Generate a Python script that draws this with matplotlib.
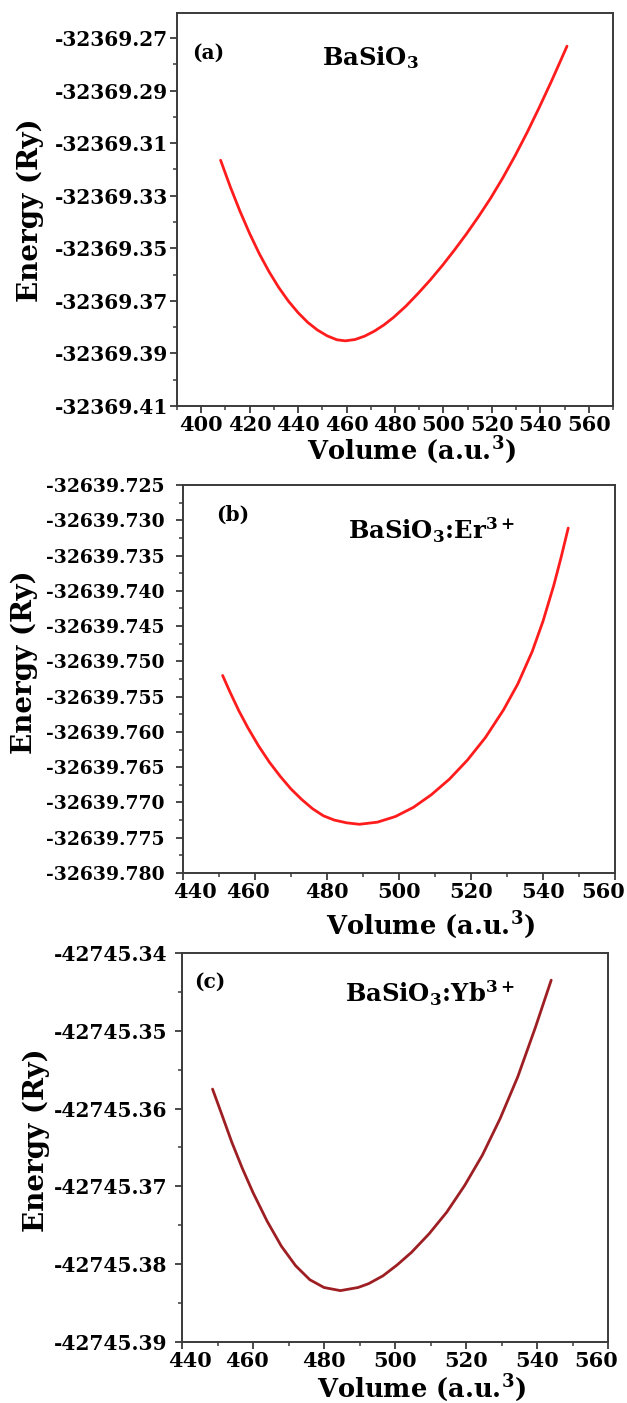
import matplotlib
matplotlib.use("Agg")
import matplotlib.pyplot as plt
import matplotlib.transforms as mtransforms
from matplotlib.ticker import FixedLocator, FormatStrFormatter

plt.rcParams['font.family'] = ['DejaVu Serif']
plt.rcParams['font.weight'] = 'bold'
plt.rcParams['mathtext.fontset'] = 'dejavuserif'

# --- (a) BaSiO3 ---
vol_a = [408, 412, 416, 420, 424, 428, 432, 436, 440, 444, 448, 452, 456, 459.5,
         463.5, 467.5, 471.5, 475.5, 479.5, 484.5, 489.5, 494.5, 499.5, 504.5,
         509.5, 514.5, 519.5, 524.5, 529.5, 534.5, 539.5, 544.5, 547.5, 551]
e_a = [-32369.3165, -32369.3266, -32369.3359, -32369.3444, -32369.3521, -32369.3589,
       -32369.3649, -32369.3701, -32369.3745, -32369.3782, -32369.3811, -32369.3833,
       -32369.3848, -32369.3852, -32369.3847, -32369.3834, -32369.3815, -32369.3791,
       -32369.3762, -32369.3720, -32369.3672, -32369.3621, -32369.3566, -32369.3507,
       -32369.3445, -32369.3379, -32369.3309, -32369.3232, -32369.3149, -32369.3060,
       -32369.2965, -32369.2866, -32369.2804, -32369.2731]
yticks_a = [-32369.41, -32369.39, -32369.37, -32369.35, -32369.33, -32369.31, -32369.29, -32369.27]
xticks_a = [400, 420, 440, 460, 480, 500, 520, 540, 560]

# --- (b) BaSiO3:Er3+ ---
vol_b = [451, 453, 455.5, 458, 461, 464, 467, 470, 473, 476, 479, 482, 485.5, 489,
         494, 499, 504, 509, 514, 519, 524, 529, 533, 537, 540, 543, 545, 547]
e_b = [-32639.7520, -32639.7543, -32639.7570, -32639.7594, -32639.7620, -32639.7643,
       -32639.7663, -32639.7681, -32639.7696, -32639.7709, -32639.7719, -32639.7725,
       -32639.7729, -32639.7731, -32639.7728, -32639.7720, -32639.7707, -32639.7689,
       -32639.7667, -32639.7640, -32639.7608, -32639.7569, -32639.7532, -32639.7486,
       -32639.7443, -32639.7392, -32639.7353, -32639.7311]
yticks_b = [-32639.780, -32639.775, -32639.770, -32639.765, -32639.760, -32639.755,
            -32639.750, -32639.745, -32639.740, -32639.735, -32639.730, -32639.725]
xticks_b = [440, 460, 480, 500, 520, 540, 560]

# --- (c) BaSiO3:Yb3+ ---
vol_c = [448.6, 451, 454, 457, 460, 464, 468, 472, 476, 480, 484.6, 489.6, 492.6,
         496.6, 500.6, 504.6, 509.6, 514.6, 519.6, 524.6, 529.6, 534.6, 539.6, 544]
e_c = [-42745.3575, -42745.3605, -42745.3643, -42745.3677, -42745.3708, -42745.3745,
       -42745.3777, -42745.3802, -42745.3820, -42745.3830, -42745.3834, -42745.3830,
       -42745.3825, -42745.3815, -42745.3801, -42745.3785, -42745.3761, -42745.3733,
       -42745.3699, -42745.3660, -42745.3613, -42745.3559, -42745.3495, -42745.3435]
yticks_c = [-42745.39, -42745.38, -42745.37, -42745.36, -42745.35, -42745.34]
xticks_c = [440, 460, 480, 500, 520, 540, 560]

panels = [
    dict(vol=vol_a, e=e_a, yt=yticks_a, xt=xticks_a, fmt='%.2f',
         rect=[0.2823, 0.7106, 0.6954, 0.2801], xlim=(390, 570),
         ylim=(-32369.41, -32369.2605), color='#ff1c1c', ysize=14.5, ypad=1.5,
         tag='(a)', tagpos=(0.071, 0.90),
         name='BaSiO$_\\mathbf{3}$', namepos=(0.443, 0.886),
         ylab=(-0.305, 0.499), xlab=(0.539, -0.071), shift=None),
    dict(vol=vol_b, e=e_b, yt=yticks_b, xt=xticks_b, fmt='%.3f',
         rect=[0.2919, 0.3778, 0.6890, 0.2765], xlim=(440, 560),
         ylim=(-32639.780, -32639.725), color='#ff1c1c', ysize=13.5, ypad=8,
         tag='(b)', tagpos=(0.116, 0.923),
         name='BaSiO$_\\mathbf{3}$:Er$^\\mathbf{3+}$', namepos=(0.576, 0.884),
         ylab=(-0.336, 0.544), xlab=(0.572, -0.093), shift=[12, -7, -12]),
    dict(vol=vol_c, e=e_c, yt=yticks_c, xt=xticks_c, fmt='%.2f',
         rect=[0.2903, 0.0435, 0.6794, 0.2773], xlim=(440, 560),
         ylim=(-42745.39, -42745.34), color='#9e1f23', ysize=14.5, ypad=5.5,
         tag='(c)', tagpos=(0.066, 0.925),
         name='BaSiO$_\\mathbf{3}$:Yb$^\\mathbf{3+}$', namepos=(0.582, 0.897),
         ylab=(-0.31, 0.519), xlab=(0.563, -0.077), shift=[8, -6, -12]),
]

fig = plt.figure(figsize=(6.27, 14.03), dpi=100)
spine_col = '#3a3a3a'

for p in panels:
    ax = fig.add_axes(p['rect'])
    ax.plot(p['vol'], p['e'], color=p['color'], lw=2.0, solid_capstyle='round',
            solid_joinstyle='round')
    ax.set_xlim(*p['xlim'])
    ax.set_ylim(*p['ylim'])

    ax.yaxis.set_major_locator(FixedLocator(p['yt']))
    ystep = p['yt'][1] - p['yt'][0]
    ax.yaxis.set_minor_locator(FixedLocator([v + ystep / 2 for v in p['yt'][:-1]]))
    ax.yaxis.set_major_formatter(FormatStrFormatter(p['fmt']))
    ax.xaxis.set_major_locator(FixedLocator(p['xt']))
    ax.xaxis.set_minor_locator(FixedLocator([v + 10 for v in [p['xlim'][0] - 10] + p['xt']]))
    ax.xaxis.set_major_formatter(FormatStrFormatter('%d'))

    for s in ax.spines.values():
        s.set_color(spine_col)
        s.set_linewidth(1.4)
    ax.tick_params(which='major', direction='out', length=5, width=1.3, color=spine_col)
    ax.tick_params(which='minor', direction='out', length=3, width=1.1, color=spine_col)
    ax.tick_params(axis='y', which='major', labelsize=p['ysize'], pad=p['ypad'])
    ax.tick_params(axis='x', which='major', labelsize=15, pad=1.5)

    ax.set_ylabel('Energy (Ry)', fontsize=20, fontweight='bold')
    ax.yaxis.set_label_coords(*p['ylab'])
    ax.set_xlabel('Volume (a.u.$^\\mathbf{3}$)', fontsize=18.5, fontweight='bold')
    ax.xaxis.set_label_coords(*p['xlab'])

    ax.text(p['tagpos'][0], p['tagpos'][1], p['tag'], transform=ax.transAxes,
            fontsize=14.5, fontweight='bold', ha='center', va='center')
    ax.text(p['namepos'][0], p['namepos'][1], p['name'], transform=ax.transAxes,
            fontsize=17.5, fontweight='bold', ha='center', va='center')

    # end labels sit slightly inside in the original
    if p['shift']:
        labels = ax.get_xticklabels()
        for idx, dx in zip([0, 1, -1], p['shift']):
            off = mtransforms.ScaledTranslation(dx / 100, 0, fig.dpi_scale_trans)
            labels[idx].set_transform(labels[idx].get_transform() + off)

fig.savefig('out.png', dpi=100)
